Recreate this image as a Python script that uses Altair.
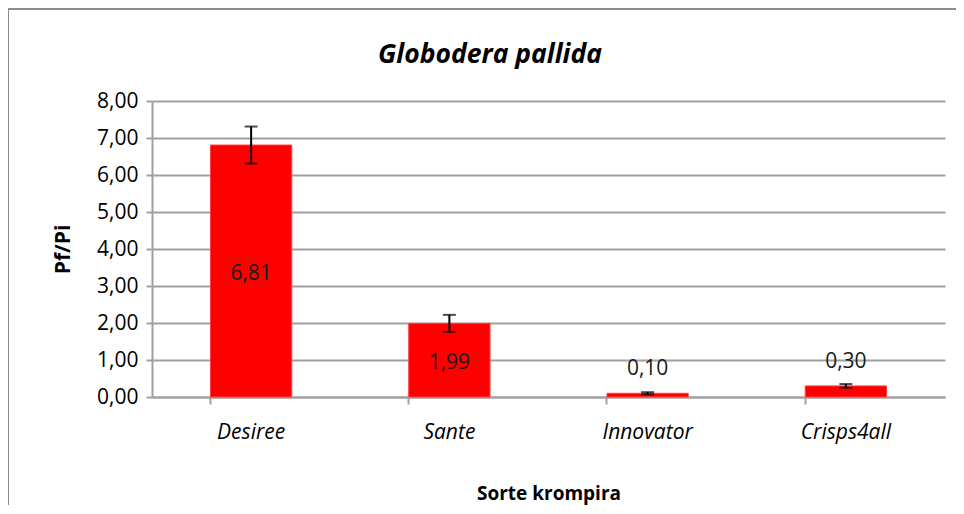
import altair as alt
import pandas as pd

categories = ["Desiree", "Sante", "Innovator", "Crisps4all"]
values = [6.81, 1.99, 0.10, 0.30]
errors = [0.50, 0.23, 0.03, 0.05]
y_ticks = [0, 1, 2, 3, 4, 5, 6, 7, 8]
chart_title = "Globodera pallida"

df = pd.DataFrame({"cat": categories, "val": values, "err": errors})
df["lo"] = df["val"] - df["err"]
df["hi"] = df["val"] + df["err"]
df["label"] = df["val"].map(lambda v: f"{v:.2f}".replace(".", ","))
df["inside"] = df["val"] > 1
df["lab_y"] = df.apply(lambda r: r["val"] / 2 if r["inside"] else r["val"], axis=1)

FONT = "Open Sans"
W, H = 793, 296
GRID = "#a0a0a0"

xscale = alt.Scale(paddingInner=0.59, paddingOuter=0.295)
yscale = alt.Scale(domain=[0, 8], nice=False)

xaxis = alt.Axis(labelAngle=0, labelFont=FONT, labelFontSize=21, labelFontStyle="italic",
                 labelColor="#000", labelPadding=17, bandPosition=0, tickSize=7,
                 tickColor=GRID, tickWidth=2, domainColor=GRID, domainWidth=2,
                 titleFont=FONT, titleFontSize=19, titleFontWeight="bold", titleColor="#000",
                 titlePadding=42, grid=False)
yaxis = alt.Axis(values=y_ticks, labelExpr="replace(format(datum.value, '.2f'), '.', ',')",
                 labelFont=FONT, labelFontSize=21, labelColor="#000", labelPadding=8,
                 labelOverlap=False, tickSize=6, tickColor=GRID, tickWidth=2,
                 domainColor=GRID, domainWidth=2, grid=True, gridColor=GRID, gridWidth=2,
                 titleFont=FONT, titleFontSize=21, titleFontWeight="bold", titleColor="#000",
                 titlePadding=23)


def xe():
    return alt.X("cat:N", sort=categories, title="Sorte krompira", scale=xscale, axis=xaxis)


def ye(field):
    return alt.Y(field, title="Pf/Pi", scale=yscale, axis=yaxis)


frame = alt.Chart(pd.DataFrame({"a": [0]})).mark_rect(
    fill=None, stroke="#8c8c8c", strokeWidth=2, clip=False
).encode(x=alt.value(-144), x2=alt.value(900), y=alt.value(-92), y2=alt.value(600))

title_txt = alt.Chart(pd.DataFrame({"t": [chart_title]})).mark_text(
    font=FONT, fontSize=26.5, fontWeight="bold", fontStyle="italic", color="#000",
    align="center", baseline="alphabetic"
).encode(x=alt.value(338), y=alt.value(-38), text="t:N")

bars = alt.Chart(df).mark_bar(color="#ff0000", stroke="#ff4040", strokeWidth=1).encode(
    x=xe(), y=ye("val:Q"))

rules = alt.Chart(df).mark_rule(color="#000", strokeWidth=2).encode(
    x=xe(), y=ye("lo:Q"), y2="hi:Q")
caps_lo = alt.Chart(df).mark_tick(color="#000", thickness=2, size=13, orient="horizontal").encode(
    x=xe(), y=ye("lo:Q"))
caps_hi = alt.Chart(df).mark_tick(color="#000", thickness=2, size=13, orient="horizontal").encode(
    x=xe(), y=ye("hi:Q"))

lab_in = alt.Chart(df).transform_filter("datum.inside").mark_text(
    font=FONT, fontSize=21, color="#1a1a1a", baseline="middle", dy=3).encode(
    x=xe(), y=ye("lab_y:Q"), text="label:N")
lab_out = alt.Chart(df).transform_filter("!datum.inside").mark_text(
    font=FONT, fontSize=21, color="#1a1a1a", baseline="middle", dy=-24).encode(
    x=xe(), y=ye("lab_y:Q"), text="label:N")

chart = alt.layer(frame, title_txt, bars, rules, caps_lo, caps_hi, lab_in, lab_out).properties(
    width=W, height=H,
    background="white",
    autosize=alt.AutoSizeParams(type="none"),
    padding={"left": 144, "top": 93, "right": 11, "bottom": 108},
).configure_view(strokeWidth=0)

chart.save("out.html", embed_options={"renderer": "svg", "actions": False})
